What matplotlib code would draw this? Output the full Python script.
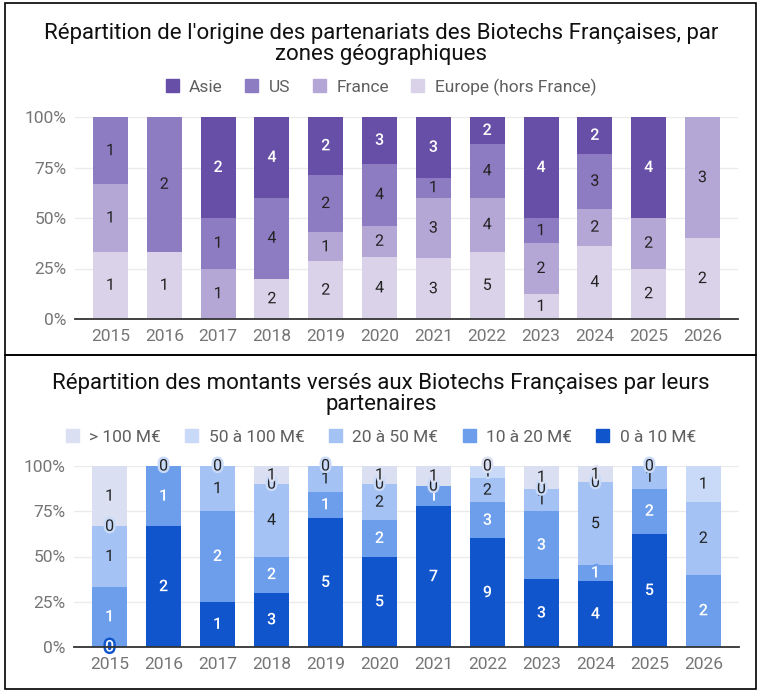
import numpy as np
import matplotlib
matplotlib.use('Agg')
import matplotlib.pyplot as plt
import matplotlib.patheffects as pe
from matplotlib.patches import Patch, Rectangle

plt.rcParams['font.family'] = ['Roboto', 'DejaVu Sans']

nan = np.nan
annees = ['2015', '2016', '2017', '2018', '2019', '2020',
          '2021', '2022', '2023', '2024', '2025', '2026']

# graphique 1 : zones geographiques (de bas en haut)
zones = ['Europe (hors France)', 'France', 'US', 'Asie']
europe = [1, 1, nan, 2, 2, 4, 3, 5, 1, 4, 2, 2]
france = [1, nan, 1, nan, 1, 2, 3, 4, 2, 2, 2, 3]
us = [1, 2, 1, 4, 2, 4, 1, 4, 1, 3, nan, nan]
asie = [nan, nan, 2, 4, 2, 3, 3, 2, 4, 2, 4, nan]
couleurs_zones = ['#d9d2e9', '#b4a7d6', '#8e7cc3', '#674ea7']
texte_zones = ['#222222', '#222222', '#222222', 'white']

# graphique 2 : montants (de bas en haut)
tranches = ['0 à 10 M€', '10 à 20 M€', '20 à 50 M€', '50 à 100 M€', '> 100 M€']
m_0_10 = [0, 2, 1, 3, 5, 5, 7, 9, 3, 4, 5, nan]
m_10_20 = [1, 1, 2, 2, 1, 2, 1, 3, 3, 1, 2, 2]
m_20_50 = [1, nan, 1, 4, 1, 2, nan, 2, 1, 5, 1, 2]
m_50_100 = [0, 0, 0, 0, 0, 0, 0, 1, 0, 0, 0, 1]
m_100 = [1, nan, nan, 1, nan, 1, 1, 0, 1, 1, nan, nan]
couleurs_tranches = ['#1155cc', '#6d9eeb', '#a4c2f4', '#c9daf8', '#dae0f2']
texte_tranches = ['white', 'white', '#222222', '#222222', '#222222']

W, H = 762, 698
fig = plt.figure(figsize=(W / 100, H / 100), dpi=100)


def fy(y):
    return 1 - y / H


def barres(ax, series, couleurs, textes):
    x = np.arange(len(annees))
    data = np.array(series, dtype=float)
    tot = np.nansum(data, axis=0)
    bas = np.zeros(len(annees))
    for s, vals in enumerate(data):
        frac = np.nan_to_num(vals) / tot
        ax.bar(x, frac, 0.65, bottom=bas, color=couleurs[s], zorder=2)
        for i, v in enumerate(vals):
            if np.isnan(v):
                continue
            ax.text(x[i], bas[i] + frac[i] / 2, '%d' % v, ha='center', va='center',
                    fontsize=11.5, color=textes[s], zorder=5 + s,
                    fontweight='medium' if textes[s] == 'white' else 'normal',
                    path_effects=[pe.withStroke(linewidth=3.5, foreground=couleurs[s])])
        bas = bas + frac
    ax.set_xlim(-0.66, len(annees) - 0.34)
    ax.set_ylim(0, 1)
    ax.set_xticks(x)
    ax.set_xticklabels(annees)
    ax.set_yticks([0, 0.25, 0.5, 0.75, 1])
    ax.set_yticklabels(['0%', '25%', '50%', '75%', '100%'])
    ax.tick_params(length=0, labelsize=12.5, labelcolor='#757575')
    ax.tick_params(axis='x', pad=7)
    ax.tick_params(axis='y', pad=6)
    ax.grid(axis='y', color='#ebebeb', linewidth=1, zorder=0)
    for sp in ['top', 'right', 'left']:
        ax.spines[sp].set_visible(False)
    ax.spines['bottom'].set_color('#333333')
    ax.spines['bottom'].set_linewidth(1.3)
    ax.spines['bottom'].set_zorder(10)


# haut
ax1 = fig.add_axes([75 / W, fy(319), (738 - 75) / W, (319 - 117) / H])
barres(ax1, [europe, france, us, asie], couleurs_zones, texte_zones)
fig.text(0.5, fy(44), "Répartition de l'origine des partenariats des Biotechs Françaises, par\nzones géographiques",
         ha='center', va='center', fontsize=16, color='#111111', linespacing=1.0)
poignees = [Patch(color=couleurs_zones[i], label=zones[i]) for i in [3, 2, 1, 0]]
fig.legend(handles=poignees, loc='center', bbox_to_anchor=(0.5, fy(87)), ncol=4,
           frameon=False, fontsize=12.5, labelcolor='#5f5f5f', handlelength=0.75,
           handleheight=0.75, handletextpad=0.6, columnspacing=1.3)

# bas
ax2 = fig.add_axes([74 / W, fy(647), (739 - 74) / W, (647 - 466) / H])
barres(ax2, [m_0_10, m_10_20, m_20_50, m_50_100, m_100], couleurs_tranches, texte_tranches)
fig.text(0.5, fy(394), "Répartition des montants versés aux Biotechs Françaises par leurs\npartenaires",
         ha='center', va='center', fontsize=16, color='#111111', linespacing=1.0)
poignees = [Patch(color=couleurs_tranches[i], label=tranches[i]) for i in [4, 3, 2, 1, 0]]
fig.legend(handles=poignees, loc='center', bbox_to_anchor=(0.5, fy(437)), ncol=5,
           frameon=False, fontsize=12.5, labelcolor='#5f5f5f', handlelength=0.75,
           handleheight=0.75, handletextpad=0.6, columnspacing=1.4)

# cadres
for y0, y1 in [(3, 355), (355, 689)]:
    fig.patches.append(Rectangle((5 / W, fy(y1)), (756 - 5) / W, (y1 - y0) / H,
                                 transform=fig.transFigure, fill=False,
                                 edgecolor='black', linewidth=1.2))

fig.savefig('out.png', dpi=100)
